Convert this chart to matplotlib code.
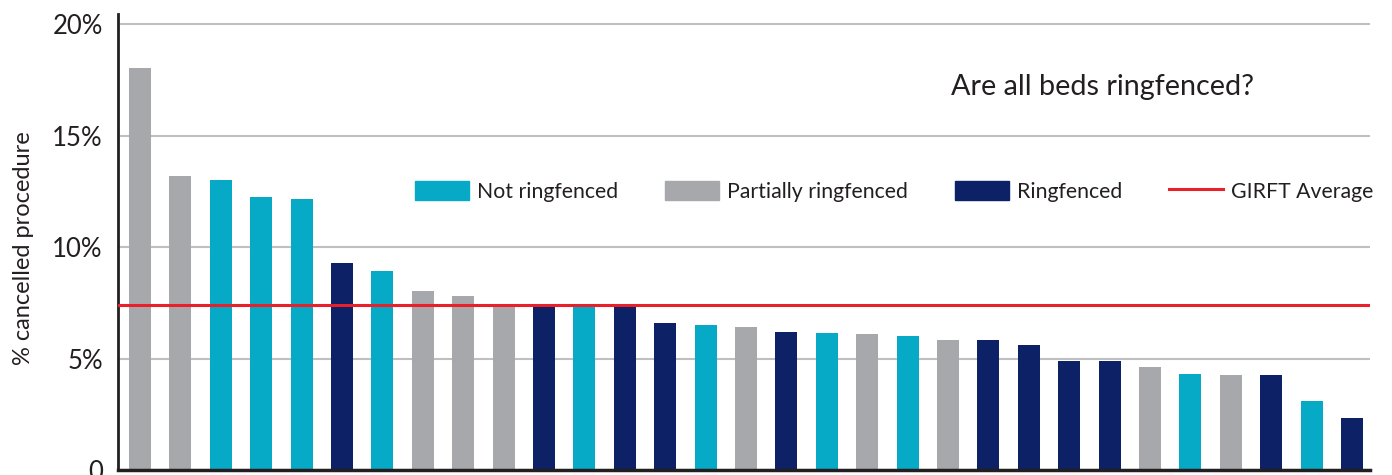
import matplotlib

matplotlib.use("Agg")
import matplotlib.pyplot as plt
from matplotlib.patches import Patch
from matplotlib.lines import Line2D

# % cancelled procedures per provider, sorted high to low
values = [18.05, 13.2, 13.03, 12.26, 12.17, 9.30, 8.96, 8.05, 7.83, 7.38,
          7.40, 7.40, 7.40, 6.61, 6.52, 6.43, 6.21, 6.17, 6.12, 6.03,
          5.85, 5.85, 5.63, 4.91, 4.91, 4.64, 4.33, 4.28, 4.28, 3.12, 2.35]
# N = not ringfenced, P = partially ringfenced, R = ringfenced
status = ["P", "P", "N", "N", "N", "R", "N", "P", "P", "P",
          "R", "N", "R", "R", "N", "P", "R", "N", "P", "N",
          "P", "R", "R", "R", "R", "P", "N", "P", "R", "N", "R"]
girft_average = 7.41
yticks = [0, 5, 10, 15, 20]
ytick_labels = ["0", "5%", "10%", "15%", "20%"]

COLORS = {"N": "#06AAC7", "P": "#A7A8AC", "R": "#0D2167"}
RED = "#E8202A"
DARK = "#231F20"

plt.rcParams["font.family"] = ["Lato", "DejaVu Sans"]

fig = plt.figure(figsize=(13.92, 4.75), dpi=100)
ax = fig.add_axes([0.0848, 0.0095, 0.8994, 0.961])

xs = list(range(len(values)))
ax.bar(xs, values, width=0.545, color=[COLORS[s] for s in status], zorder=2)
ax.axhline(girft_average, color=RED, lw=2.2, zorder=3)

ax.set_xlim(-0.545, len(values) - 1 + 0.445)
ax.set_ylim(0, 20.47)
ax.set_yticks(yticks)
ax.set_yticklabels(ytick_labels)
ax.set_xticks([])
ax.tick_params(axis="y", length=0, pad=11, labelsize=18.5, labelcolor=DARK)
ax.grid(axis="y", color="#BFBFBF", lw=1.5, zorder=1)
ax.spines[["top", "right"]].set_visible(False)
ax.spines["left"].set_color(DARK)
ax.spines["left"].set_linewidth(2)
ax.spines["bottom"].set_color(DARK)
ax.spines["bottom"].set_linewidth(2.5)
ax.set_ylabel("% cancelled procedure", fontsize=17, color=DARK)
ax.yaxis.set_label_coords(-0.067, 0.488)

ax.text(0.786, 0.84, "Are all beds ringfenced?", transform=ax.transAxes,
        fontsize=20.7, color=DARK, ha="center", va="center")

handles = [Patch(color=COLORS["N"], label="Not ringfenced"),
           Patch(color=COLORS["P"], label="Partially ringfenced"),
           Patch(color=COLORS["R"], label="Ringfenced"),
           Line2D([], [], color=RED, lw=2.2, label="GIRFT Average")]
leg = ax.legend(handles=handles, ncol=4, loc="center",
                bbox_to_anchor=(0.620, 0.612), frameon=False, fontsize=15.3,
                handlelength=2.54, handleheight=1.04, handletextpad=0.38,
                columnspacing=2.2, borderpad=0, borderaxespad=0)
for t in leg.get_texts():
    t.set_color(DARK)

fig.savefig("out.png", dpi=100)
